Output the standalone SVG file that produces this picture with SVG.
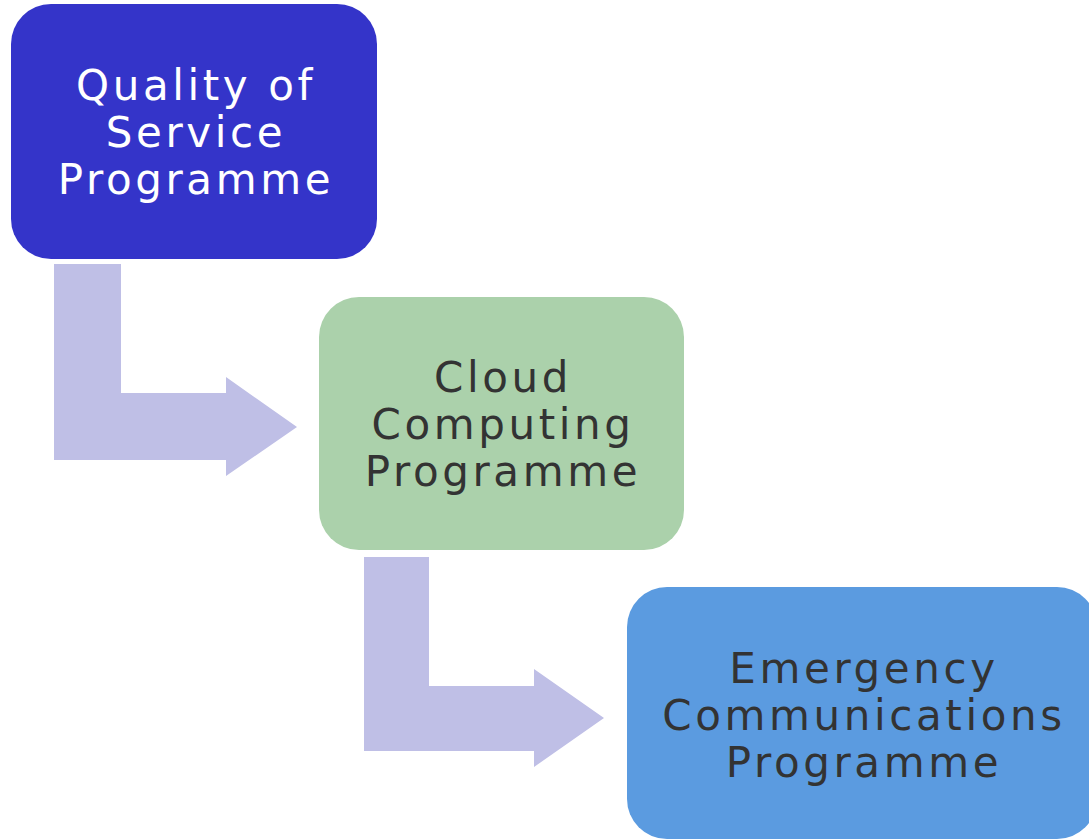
<svg xmlns="http://www.w3.org/2000/svg" width="1089" height="840" viewBox="0 0 1089 840">
<style>
.lbl{font-family:"DejaVu Sans","Liberation Sans",sans-serif;font-size:42px;letter-spacing:3.6px;text-anchor:middle}
.arrow{fill:#BFBFE6}
</style>
<rect width="1089" height="840" fill="#FFFFFF"/>
<g id="connectors">
<path class="arrow" d="M54,264 H121 V393 H226 V377 L297,427 L226,476 V460 H54 Z"/>
<path class="arrow" d="M364,557 H429 V686 H534 V669 L604,718 L534,767 V751 H364 Z"/>
</g>
<g id="node-qos">
<rect x="11" y="4" width="366" height="255" rx="40" fill="#3434C9"/>
<text class="lbl" fill="#FFFFFF"><tspan x="196" y="100">Quality of</tspan><tspan x="196" y="147">Service</tspan><tspan x="196" y="194">Programme</tspan></text>
</g>
<g id="node-cloud">
<rect x="319" y="297" width="365" height="253" rx="40" fill="#ABD1AB"/>
<text class="lbl" fill="#333333"><tspan x="503" y="392">Cloud</tspan><tspan x="503" y="439">Computing</tspan><tspan x="503" y="486">Programme</tspan></text>
</g>
<g id="node-emergency">
<rect x="627" y="587" width="470" height="252" rx="40" fill="#5B9BE0"/>
<text class="lbl" fill="#333333"><tspan x="864" y="683">Emergency</tspan><tspan x="864" y="730">Communications</tspan><tspan x="864" y="777">Programme</tspan></text>
</g>
</svg>
